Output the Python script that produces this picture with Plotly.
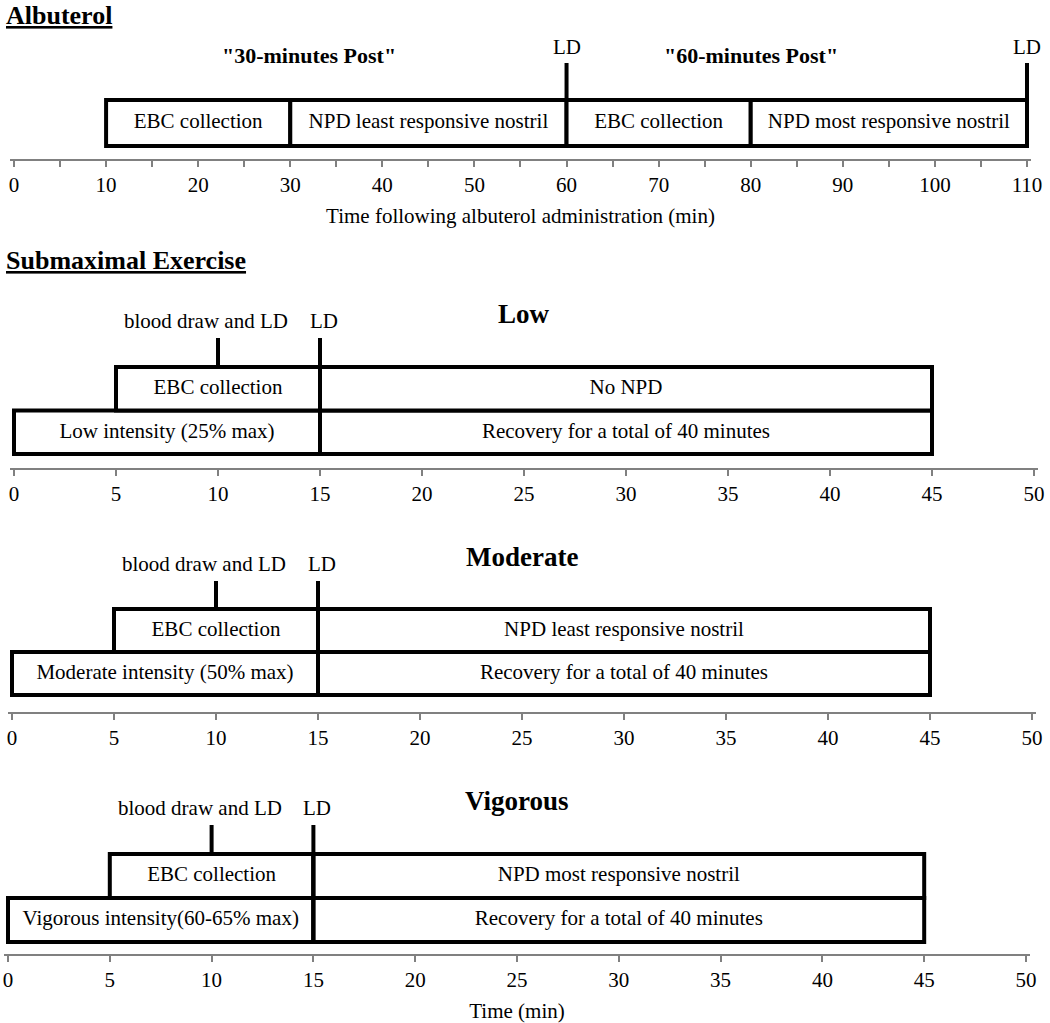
import plotly.graph_objects as go

W, H = 1050, 1023
FONT = "Liberation Serif, Times New Roman, serif"

# ---------------- data ----------------
# Albuterol timeline (minutes after administration)
alb_starts = [10, 30, 60, 80]
alb_ends = [30, 60, 80, 110]
alb_labels = ["EBC collection", "NPD least responsive nostril",
              "EBC collection", "NPD most responsive nostril"]
alb_ld_times = [60, 110]
alb_phase_labels = ['"30-minutes Post"', '"60-minutes Post"']
alb_phase_centers = [32, 80]
alb_tickvals = list(range(0, 111, 10))
alb_xtitle = "Time following albuterol administration (min)"

# Submaximal exercise timelines (minutes)
ex_names = ["Low", "Moderate", "Vigorous"]
ex_intensity_labels = ["Low intensity (25% max)",
                       "Moderate intensity (50% max)",
                       "Vigorous intensity(60-65% max)"]
ex_npd_labels = ["No NPD", "NPD least responsive nostril",
                 "NPD most responsive nostril"]
ex_recovery_label = "Recovery for a total of 40 minutes"
ex_ebc_label = "EBC collection"
ex_exercise = [0, 15]
ex_ebc = [5, 15]
ex_post = [15, 45]
ex_blood_ld_time = 10
ex_ld_time = 15
ex_blood_label = "blood draw and LD"
ex_tickvals = list(range(0, 51, 5))
ex_xtitle = "Time (min)"

# ---------------- layout geometry (pixels) ----------------
panels = [
    dict(x0=14, x1=1027, xmax=110, pad=0.4, top=63, rowtop=100, boxbottom=146, axis=159, nrows=1),
    dict(x0=14, x1=1034, xmax=50, pad=0.2, top=338, rowtop=367, boxbottom=454, axis=468, nrows=2),
    dict(x0=12, x1=1032, xmax=50, pad=0.2, top=581, rowtop=609, boxbottom=695, axis=712, nrows=2),
    dict(x0=8, x1=1026, xmax=50, pad=0.2, top=825, rowtop=854, boxbottom=942, axis=954, nrows=2),
]

TXT = 21
BOLD_TITLE = 27
HEADER = 26

fig = go.Figure()
shapes = []
annotations = []
LINEW = 4
AXCOL = "#808080"


def axis_names(i):
    s = "" if i == 0 else str(i + 1)
    return "x" + s, "y" + s, "xaxis" + s, "yaxis" + s


for i, p in enumerate(panels):
    xr, yr, xa, ya = axis_names(i)
    scale = (p["x1"] - p["x0"]) / p["xmax"]
    left_px = p["x0"] - p["pad"] * scale
    right_px = p["x1"] + p["pad"] * scale
    row_px = (p["boxbottom"] - p["rowtop"]) / p["nrows"]
    ylo = -(p["axis"] - p["boxbottom"]) / row_px
    yhi = (p["boxbottom"] - p["top"]) / row_px
    p["yhi"] = yhi
    xaxis = dict(
        domain=[left_px / W, right_px / W],
        range=[-p["pad"], p["xmax"] + p["pad"]],
        anchor=yr,
        showline=True, linecolor=AXCOL, linewidth=1.5,
        ticks="outside", ticklen=6, tickwidth=1.5, tickcolor=AXCOL,
        showgrid=False, zeroline=False,
        tickfont=dict(family=FONT, size=TXT, color="black"),
        fixedrange=True, automargin=False,
    )
    if i == 0:
        xaxis.update(tickvals=alb_tickvals,
                     minor=dict(dtick=5, tick0=0, ticks="outside", ticklen=6,
                                tickwidth=1.5, tickcolor=AXCOL, showgrid=False),
                     title=dict(text=alb_xtitle, standoff=12,
                                font=dict(family=FONT, size=TXT, color="black")))
    else:
        xaxis.update(tickvals=ex_tickvals)
        if i == 3:
            xaxis.update(title=dict(text=ex_xtitle, standoff=13,
                                    font=dict(family=FONT, size=TXT, color="black")))
    yaxis = dict(
        domain=[1 - p["axis"] / H, 1 - p["top"] / H],
        range=[ylo, yhi], anchor=xr,
        visible=False, fixedrange=True,
    )
    fig.layout[xa] = xaxis
    fig.layout[ya] = yaxis


def box(xr, yr, x0, x1, y0, y1):
    shapes.append(dict(type="rect", xref=xr, yref=yr, x0=x0, x1=x1, y0=y0, y1=y1,
                       line=dict(color="black", width=LINEW), fillcolor="white",
                       layer="below"))


def vline(xr, yr, x, y0, y1):
    shapes.append(dict(type="line", xref=xr, yref=yr, x0=x, x1=x, y0=y0, y1=y1,
                       line=dict(color="black", width=LINEW), layer="above"))


def text_trace(xr, yr, xs, ys, texts):
    fig.add_trace(go.Scatter(x=xs, y=ys, text=texts, mode="text", xaxis=xr, yaxis=yr,
                             textposition="middle center",
                             textfont=dict(family=FONT, size=TXT, color="black"),
                             hoverinfo="skip", showlegend=False, cliponaxis=False))


# ---------- Albuterol panel ----------
xr, yr, _, _ = axis_names(0)
for s, e in zip(alb_starts, alb_ends):
    box(xr, yr, s, e, 0, 1)
text_trace(xr, yr, [(s + e) / 2 for s, e in zip(alb_starts, alb_ends)],
           [0.5] * len(alb_labels), alb_labels)
for t in alb_ld_times:
    vline(xr, yr, t, 1, panels[0]["yhi"])
    annotations.append(dict(xref=xr, yref=yr, x=t, y=panels[0]["yhi"], text="LD",
                            showarrow=False, yanchor="middle", yshift=16,
                            font=dict(family=FONT, size=TXT, color="black")))
for lab, c in zip(alb_phase_labels, alb_phase_centers):
    annotations.append(dict(xref=xr, yref=yr, x=c, y=panels[0]["yhi"], text="<b>" + lab + "</b>",
                            showarrow=False, yanchor="middle", yshift=7,
                            font=dict(family=FONT, size=22, color="black")))

# ---------- Exercise panels ----------
for k in range(3):
    i = k + 1
    xr, yr, _, _ = axis_names(i)
    p = panels[i]
    # lower row: exercise then recovery
    box(xr, yr, ex_exercise[0], ex_exercise[1], 0, 1)
    box(xr, yr, ex_post[0], ex_post[1], 0, 1)
    # upper row: EBC collection then NPD
    box(xr, yr, ex_ebc[0], ex_ebc[1], 1, 2)
    box(xr, yr, ex_post[0], ex_post[1], 1, 2)
    text_trace(xr, yr,
               [sum(ex_exercise) / 2, sum(ex_post) / 2, sum(ex_ebc) / 2, sum(ex_post) / 2],
               [0.5, 0.5, 1.5, 1.5],
               [ex_intensity_labels[k], ex_recovery_label, ex_ebc_label, ex_npd_labels[k]])
    vline(xr, yr, ex_blood_ld_time, 2, p["yhi"])
    vline(xr, yr, ex_ld_time, 0, p["yhi"])
    annotations.append(dict(xref=xr, yref=yr, x=ex_blood_ld_time, y=p["yhi"], text=ex_blood_label,
                            showarrow=False, yanchor="middle", yshift=17, xshift=-12,
                            font=dict(family=FONT, size=TXT, color="black")))
    annotations.append(dict(xref=xr, yref=yr, x=ex_ld_time, y=p["yhi"], text="LD",
                            showarrow=False, yanchor="middle", yshift=17, xshift=4,
                            font=dict(family=FONT, size=TXT, color="black")))
    annotations.append(dict(xref=xr, yref=yr, x=25, y=p["yhi"], text="<b>" + ex_names[k] + "</b>",
                            showarrow=False, yanchor="middle", yshift=24,
                            font=dict(family=FONT, size=BOLD_TITLE, color="black")))

# ---------- section headers ----------
annotations.append(dict(xref="paper", yref="paper", x=4 / W, y=1, xanchor="left",
                        yanchor="top", yshift=1, showarrow=False, text="<b><u>Albuterol</u></b>",
                        font=dict(family=FONT, size=HEADER, color="black")))
annotations.append(dict(xref="paper", yref="paper", x=4 / W, y=1 - 260 / H, xanchor="left",
                        yanchor="middle", showarrow=False, text="<b><u>Submaximal Exercise</u></b>",
                        font=dict(family=FONT, size=HEADER, color="black")))

fig.update_layout(
    width=W, height=H,
    margin=dict(l=0, r=0, t=0, b=0),
    paper_bgcolor="white", plot_bgcolor="white",
    shapes=shapes, annotations=annotations,
    showlegend=False,
    font=dict(family=FONT, color="black"),
)

fig.write_html("out.html", config={"displayModeBar": False},
               post_script="document.body.style.margin='0';")
